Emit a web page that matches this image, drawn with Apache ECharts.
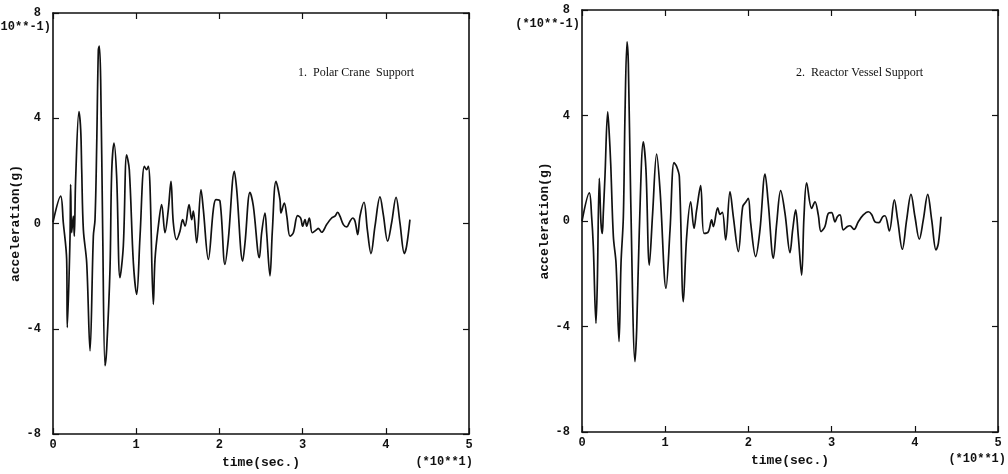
<!DOCTYPE html>
<html>
<head>
<meta charset="utf-8">
<script src="https://cdn.jsdelivr.net/npm/echarts@6/dist/echarts.min.js"></script>
<style>
  html, body { margin: 0; padding: 0; background: #fff; }
  #chart { width: 1008px; height: 474px; }
</style>
</head>
<body>
<div id="chart"></div>
<script>
// time in units of 10 s, acceleration in units of 0.1 g (as on the axes)
const craneTime = [0, 0.092, 0.124, 0.164, 0.172, 0.204, 0.212, 0.224, 0.244, 0.256, 0.272, 0.312, 0.333, 0.345,
  0.365, 0.405, 0.445, 0.485, 0.505, 0.525, 0.545, 0.557, 0.573, 0.597, 0.625, 0.645, 0.685, 0.705, 0.733, 0.765,
  0.805, 0.845, 0.885, 0.917, 0.966, 1.006, 1.046, 1.098, 1.126, 1.146, 1.166, 1.206, 1.226, 1.266, 1.306, 1.346,
  1.386, 1.418, 1.446, 1.486, 1.526, 1.558, 1.587, 1.635, 1.667, 1.687, 1.727, 1.779, 1.807, 1.867, 1.927, 1.959,
  2.007, 2.067, 2.107, 2.18, 2.208, 2.28, 2.308, 2.368, 2.408, 2.48, 2.508, 2.548, 2.568, 2.608, 2.636, 2.68,
  2.728, 2.74, 2.78, 2.81, 2.849, 2.889, 2.94, 2.977, 3.0, 3.029, 3.049, 3.081, 3.117, 3.169, 3.189, 3.229, 3.289,
  3.349, 3.389, 3.421, 3.449, 3.49, 3.53, 3.57, 3.602, 3.63, 3.662, 3.69, 3.738, 3.778, 3.822, 3.87, 3.93, 3.97,
  4.022, 4.07, 4.123, 4.17, 4.223, 4.25, 4.29];
const craneAcc = [0.05, 1.04, 0.03, -1.36, -3.95, -0.61, 1.48, -0.35, 0.28, -0.48, 1.67, 4.25, 3.56, 2.05,
  -0.23, -1.49, -4.84, -0.48, 0.15, 2.93, 6.59, 6.74, 5.45, -0.23, -5.4, -4.77, -1.74, 1.92, 3.06, 1.79,
  -2.06, -0.86, 2.61, 2.05, -1.49, -2.69, -0.48, 2.17, 2.05, 2.17, 1.41, -3.07, -1.36, -0.1, 0.72, -0.35,
  0.53, 1.6, 0.03, -0.61, -0.29, 0.15, -0.1, 0.72, 0.15, 0.47, -0.73, 1.29, 0.53, -1.36, 0.53, 0.91,
  0.85, -1.55, -0.61, 1.98, 1.29, -1.43, -0.73, 1.19, 0.66, -1.3, -0.35, 0.4, -0.35, -1.99, -0.3, 1.6,
  0.91, 0.4, 0.78, 0.28, -0.48, -0.35, 0.3, 0.21, -0.1, 0.15, -0.1, 0.21, -0.35, -0.23, -0.18, -0.33, -0.04,
  0.21, 0.28, 0.43, 0.28, -0.04, -0.13, 0.09, 0.21, 0.09, -0.42, 0.28, 0.81, -0.23, -1.14, -0.1, 1.01, 0.34,
  -0.67, 0.03, 1.0, 0.03, -1.14, -0.86, 0.15];

const vesselTime = [0, 0.088, 0.116, 0.136, 0.168, 0.184, 0.208, 0.228, 0.244, 0.256, 0.276, 0.309, 0.325, 0.345,
  0.377, 0.409, 0.445, 0.469, 0.497, 0.517, 0.541, 0.557, 0.585, 0.637, 0.657, 0.689, 0.737, 0.769, 0.809, 0.849,
  0.897, 0.938, 1.01, 1.058, 1.106, 1.138, 1.17, 1.218, 1.258, 1.306, 1.346, 1.378, 1.426, 1.466, 1.518, 1.558,
  1.579, 1.631, 1.659, 1.687, 1.727, 1.779, 1.819, 1.879, 1.931, 1.971, 1.999, 2.027, 2.087, 2.139, 2.2, 2.239,
  2.3, 2.34, 2.388, 2.44, 2.5, 2.532, 2.568, 2.6, 2.64, 2.668, 2.7, 2.76, 2.8, 2.84, 2.873, 2.92, 2.96, 3.0,
  3.041, 3.069, 3.101, 3.141, 3.19, 3.221, 3.269, 3.321, 3.381, 3.441, 3.481, 3.522, 3.569, 3.614, 3.642, 3.694,
  3.754, 3.794, 3.85, 3.902, 3.954, 4.002, 4.054, 4.102, 4.155, 4.203, 4.255, 4.283, 4.315];
const vesselAcc = [0, 1.07, 0.16, -0.97, -3.88, -2.36, 1.62, -0.07, -0.47, 0.29, 1.68, 4.14, 3.45, 2.18,
  -0.59, -1.6, -4.57, -1.6, 0.16, 4.08, 6.79, 5.97, 0.92, -5.33, -4.13, -0.34, 3.0, 1.93, -1.67, 0.29,
  2.54, 1.17, -2.55, -0.34, 2.21, 2.06, 1.68, -3.06, -0.59, 0.73, -0.28, 0.42, 1.34, -0.47, -0.41, 0.04,
  -0.21, 0.5, 0.25, 0.33, -0.72, 1.11, 0.16, -1.16, 0.54, 0.73, 0.86, -0.07, -1.35, -0.34, 1.78, 0.67,
  -1.41, -0.09, 1.15, 0.29, -1.2, -0.34, 0.42, -0.59, -2.05, 0.16, 1.45, 0.48, 0.73, 0.23, -0.4, -0.21, 0.29, 0.32,
  -0.03, 0.16, 0.23, -0.34, -0.21, -0.18, -0.32, -0.03, 0.23, 0.35, 0.25, -0.03, -0.06, 0.16, 0.2, -0.38,
  0.8, 0.04, -1.07, 0.04, 1.01, 0.16, -0.69, 0.04, 1.01, 0.04, -1.1, -0.85, 0.16];

const panelTitles = ['1.  Polar Crane  Support', '2.  Reactor Vessel Support'];

const pairs = (ts, vs) => ts.map((t, i) => [t, vs[i]]);

const mono = 'Liberation Mono';
const ink = '#111';

const grids = [
  { left: 53, top: 13, width: 416, height: 422 },
  { left: 582, top: 10, width: 416, height: 422 },
];

const frameLine = { onZero: false, lineStyle: { color: ink, width: 1.6 } };
const tickIn = { inside: true, length: 6, lineStyle: { color: ink, width: 1.2 } };
const nameFont = { fontFamily: mono, fontWeight: 'bold', fontSize: 13, color: ink };
const labelFont = { fontFamily: mono, fontWeight: 'bold', fontSize: 12, color: ink };

const xAxes = [];
const yAxes = [];
grids.forEach(function (g, i) {
  // bottom / left labelled axes
  xAxes.push({
    gridIndex: i, type: 'value', min: 0, max: 5, interval: 1,
    name: 'time(sec.)', nameLocation: 'middle', nameGap: 21, nameTextStyle: nameFont,
    axisLine: frameLine, axisTick: tickIn,
    axisLabel: Object.assign({ margin: 5 }, labelFont),
    splitLine: { show: false },
  });
  yAxes.push({
    gridIndex: i, type: 'value', min: -8, max: 8, interval: 4,
    name: 'acceleration(g)', nameLocation: 'middle', nameGap: 31, nameRotate: 90, nameTextStyle: nameFont,
    axisLine: frameLine, axisTick: tickIn,
    axisLabel: Object.assign({ margin: 12 }, labelFont),
    splitLine: { show: false },
  });
  // top / right frame axes
  xAxes.push({
    gridIndex: i, type: 'value', min: 0, max: 5, interval: 1, position: 'top',
    axisLine: frameLine, axisTick: tickIn,
    axisLabel: { show: false }, splitLine: { show: false },
  });
  yAxes.push({
    gridIndex: i, type: 'value', min: -8, max: 8, interval: 4, position: 'right',
    axisLine: frameLine, axisTick: tickIn,
    axisLabel: { show: false }, splitLine: { show: false },
  });
});

const seriesData = [pairs(craneTime, craneAcc), pairs(vesselTime, vesselAcc)];

const textMono = { fontFamily: mono, fontWeight: 'bold', fontSize: 12, fill: ink, align: 'right', verticalAlign: 'middle' };

const option = {
  backgroundColor: '#fff',
  animation: false,
  grid: grids,
  xAxis: xAxes,
  yAxis: yAxes,
  series: seriesData.map(function (d, i) {
    return {
      type: 'line', xAxisIndex: i * 2, yAxisIndex: i * 2, data: d,
      showSymbol: false, smooth: 0.35,
      lineStyle: { color: ink, width: 1.7 },
    };
  }),
  graphic: [
    { type: 'text', left: 298, top: 67, style: { text: panelTitles[0], fontFamily: 'Liberation Serif', fontSize: 12, fill: ink } },
    { type: 'text', left: 796, top: 67, style: { text: panelTitles[1], fontFamily: 'Liberation Serif', fontSize: 12, fill: ink } },
    { type: 'text', x: 51, y: 27, style: Object.assign({ text: '(*10**-1)' }, textMono) },
    { type: 'text', x: 580, y: 24, style: Object.assign({ text: '(*10**-1)' }, textMono) },
    { type: 'text', x: 473, y: 462, style: Object.assign({ text: '(*10**1)' }, textMono) },
    { type: 'text', x: 1006, y: 459, style: Object.assign({ text: '(*10**1)' }, textMono) },
  ],
};

const chart = echarts.init(document.getElementById('chart'));
chart.setOption(option);
</script>
</body>
</html>
